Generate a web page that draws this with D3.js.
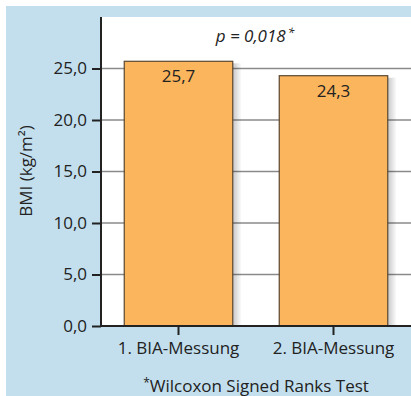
<!DOCTYPE html>
<html><head><meta charset="utf-8">
<script src="https://cdn.jsdelivr.net/npm/d3@7"></script>
<style>body{margin:0;background:#fff}svg{display:block}text{font-family:"Open Sans",sans-serif;fill:#222}</style>
</head><body>
<script>
const categories = ["1. BIA-Messung", "2. BIA-Messung"];
const values = [25.7, 24.3];
const valueLabels = ["25,7", "24,3"];
const yTicks = [0, 5, 10, 15, 20, 25];
const yTickLabels = ["0,0", "5,0", "10,0", "15,0", "20,0", "25,0"];
const yLabel = "BMI (kg/m²)";
const pText = "p = 0,018";
const footnote = "Wilcoxon Signed Ranks Test";

(function () {
const W = 411, H = 396;
const svg = d3.select("body").append("svg").attr("width", W).attr("height", H);
const defs = svg.append("defs");
const grad = defs.append("linearGradient").attr("id", "sh").attr("x1", "0").attr("x2", "1");
grad.append("stop").attr("offset", "0").attr("stop-color", "#000").attr("stop-opacity", 0.22);
grad.append("stop").attr("offset", "1").attr("stop-color", "#000").attr("stop-opacity", 0);

svg.append("rect").attr("x", 6).attr("y", 6).attr("width", W - 6).attr("height", H - 6).attr("fill", "#c3dfee");

const pl = 101, pr = 411, pt0 = 17, pb = 326;
svg.append("rect").attr("x", pl).attr("y", pt0).attr("width", pr - pl).attr("height", pb - pt0).attr("fill", "#fff");

const y = d3.scaleLinear().domain([0, 30]).range([pb, pt0]);
const x = d3.scaleBand().domain(categories).range([pl, pr]).paddingInner(0.3).paddingOuter(0.15);

svg.append("g").selectAll("line").data(yTicks.filter(d => d > 0)).join("line")
  .attr("x1", pl).attr("x2", pr).attr("y1", d => y(d)).attr("y2", d => y(d))
  .attr("stroke", "#8a8a8a").attr("stroke-width", 1.3);

const bars = svg.append("g");
bars.selectAll("rect.sh").data(categories).join("rect").attr("class", "sh")
  .attr("x", d => x(d) + x.bandwidth()).attr("y", (d, i) => y(values[i]) + 2)
  .attr("width", 9).attr("height", (d, i) => pb - y(values[i]) - 2)
  .attr("fill", "url(#sh)");
bars.selectAll("rect.bar").data(categories).join("rect").attr("class", "bar")
  .attr("x", d => x(d)).attr("y", (d, i) => y(values[i]))
  .attr("width", x.bandwidth()).attr("height", (d, i) => pb - y(values[i]))
  .attr("fill", "#fbb55c").attr("stroke", "#5a4630").attr("stroke-width", 1.2);

bars.selectAll("text.val").data(categories).join("text").attr("class", "val")
  .attr("x", d => x(d) + x.bandwidth() / 2).attr("y", (d, i) => y(values[i]) + 21)
  .attr("text-anchor", "middle").attr("font-size", 17).text((d, i) => valueLabels[i]);

const yAxis = svg.append("g").attr("transform", `translate(${pl},0)`)
  .call(d3.axisLeft(y).tickValues(yTicks).tickFormat((d, i) => yTickLabels[i]).tickSize(9).tickPadding(5));
yAxis.select(".domain").remove();
yAxis.selectAll(".tick line").attr("stroke", "#222").attr("stroke-width", 2);
yAxis.selectAll(".tick text").attr("font-size", 17).attr("font-family", "Open Sans").attr("fill", "#222");
svg.append("line").attr("x1", pl).attr("x2", pl).attr("y1", pt0).attr("y2", pb + 1)
  .attr("stroke", "#222").attr("stroke-width", 2);

const xAxis = svg.append("g").attr("transform", `translate(0,${pb})`)
  .call(d3.axisBottom(x).tickSize(9).tickPadding(7));
xAxis.select(".domain").remove();
xAxis.selectAll(".tick line").attr("stroke", "#222").attr("stroke-width", 2);
xAxis.selectAll(".tick text").attr("font-size", 17).attr("font-family", "Open Sans").attr("fill", "#222");
svg.append("line").attr("x1", pl - 1).attr("x2", pr).attr("y1", pb).attr("y2", pb)
  .attr("stroke", "#222").attr("stroke-width", 2);

svg.append("text").attr("transform", `translate(32,171) rotate(-90)`)
  .attr("text-anchor", "middle").attr("font-size", 17).text(yLabel);

const ptx = svg.append("text").attr("x", 255).attr("y", 42).attr("text-anchor", "middle")
  .attr("font-size", 17).attr("font-style", "italic");
ptx.append("tspan").text(pText);
ptx.append("tspan").attr("dy", -5).attr("dx", 2).attr("font-size", 12).text("*");

const ft = svg.append("text").attr("x", 256).attr("y", 392).attr("text-anchor", "middle").attr("font-size", 17);
ft.append("tspan").attr("dy", -5).attr("font-size", 12).text("*");
ft.append("tspan").attr("dy", 5).text(footnote);
})();
</script>
</body></html>
